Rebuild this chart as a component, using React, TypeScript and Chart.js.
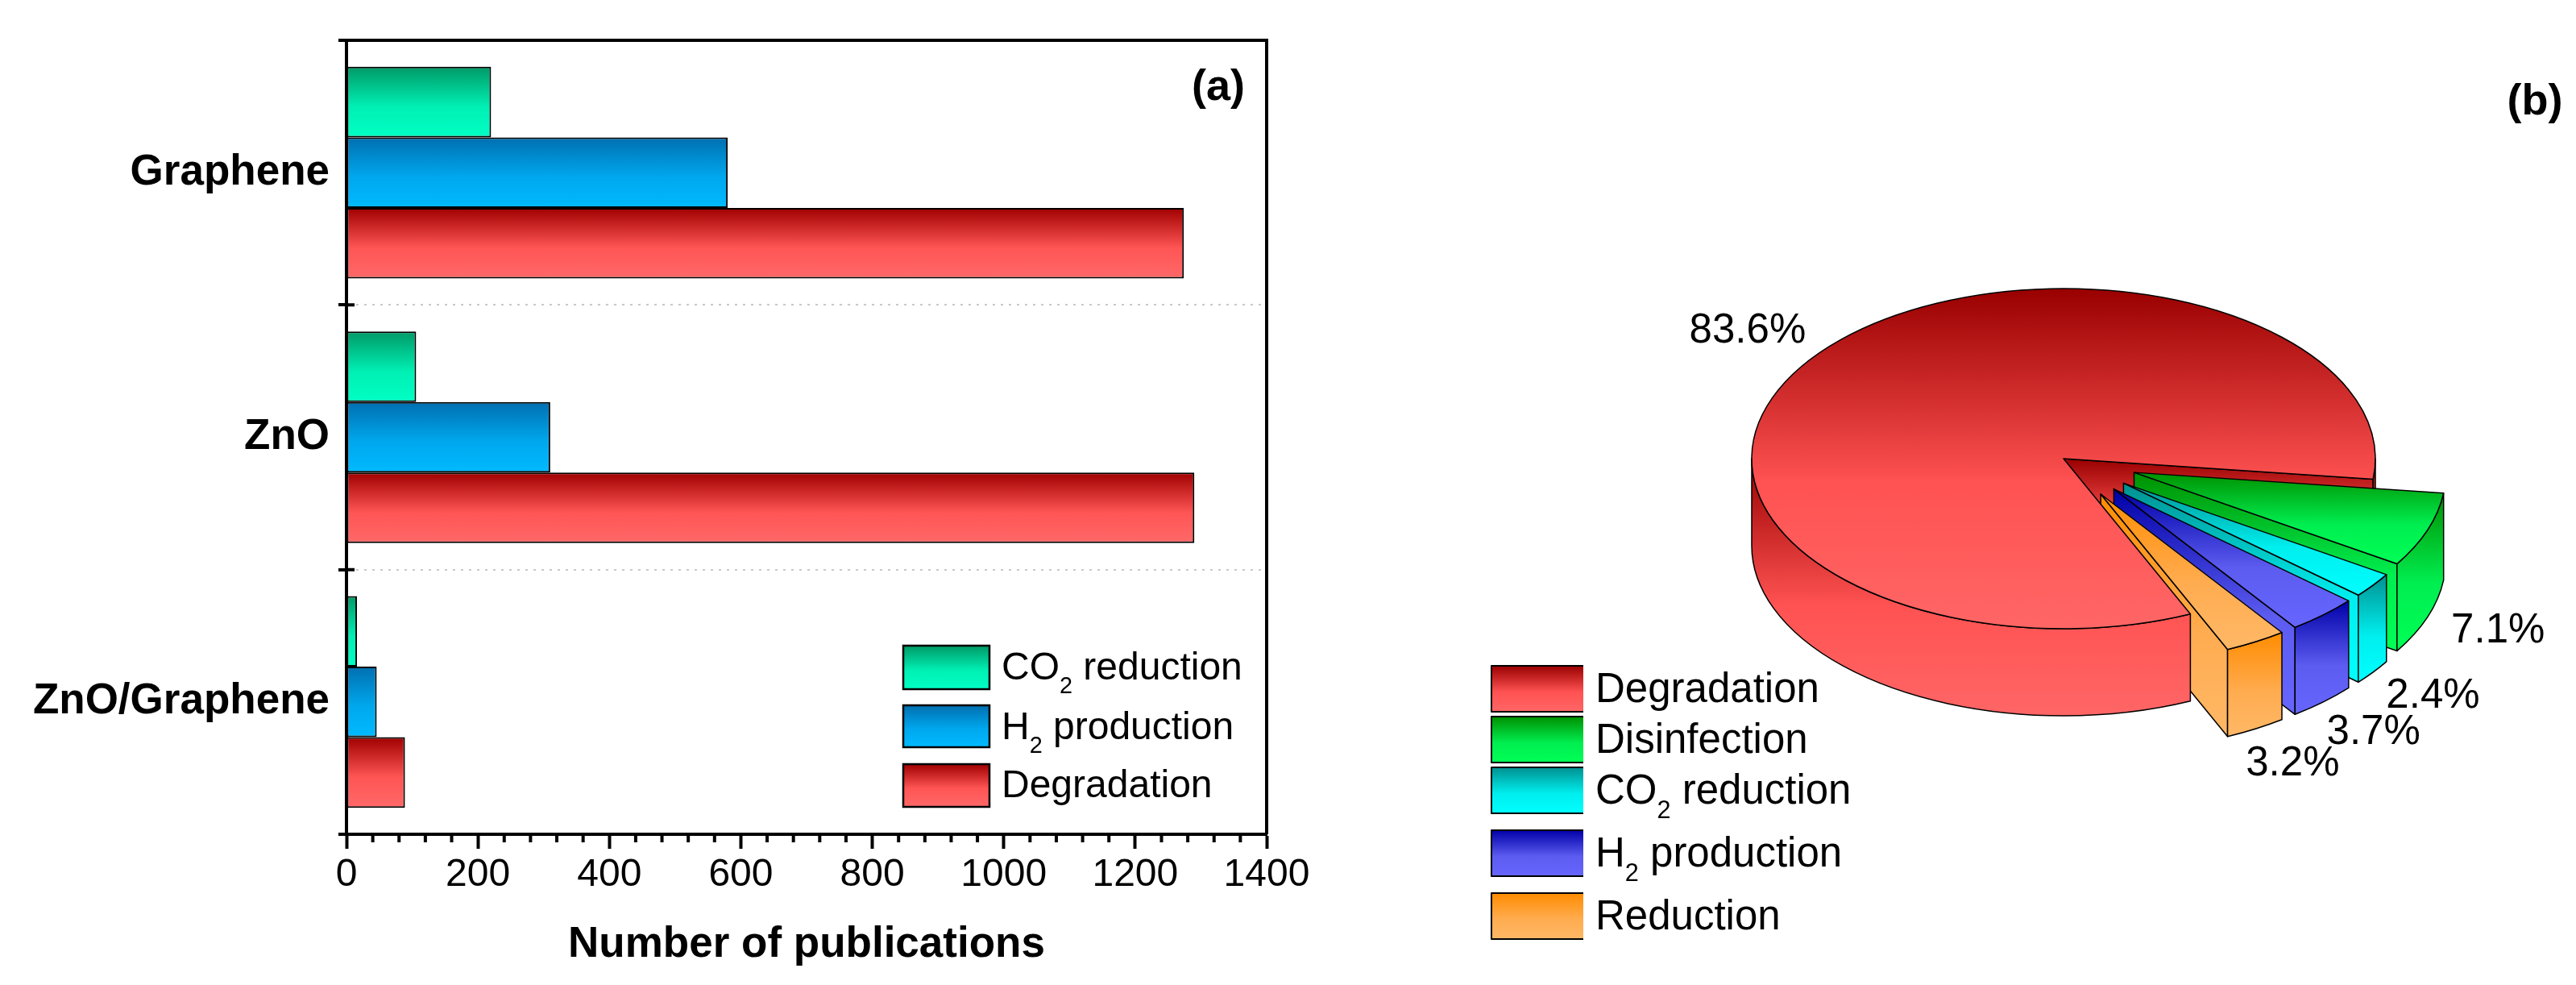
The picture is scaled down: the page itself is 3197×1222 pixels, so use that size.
import React, { useEffect, useRef } from "react";
import { Chart, registerables } from "chart.js";

Chart.register(...registerables);

// ---------- data ----------
const materials = ["Graphene", "ZnO", "ZnO/Graphene"];
const co2Reduction = [220, 106, 16];
const h2Production = [580, 310, 46];
const degradation = [1274, 1290, 89];
const barLabels = ["CO₂ reduction", "H₂ production", "Degradation"];
const xAxisTitle = "Number of publications";

const pieLabels = ["Degradation", "Disinfection", "CO₂ reduction", "H₂ production", "Reduction"];
const pieShares = [83.6, 7.1, 2.4, 3.7, 3.2];

// ---------- styles ----------
const FONT = "'Liberation Sans', Arial, sans-serif";
type Ramp = [string, string, string];
const RED: Ramp = ["#990000", "#ff5252", "#ff6666"];
const barRamps: Ramp[] = [
  ["#009966", "#00f0b4", "#00ffc4"],
  ["#006fb0", "#00a8ee", "#00baff"],
  ["#a00000", "#ff5555", "#ff6868"],
];
const pieRamps: Ramp[] = [
  RED,
  ["#009000", "#00ee50", "#00ff55"],
  ["#009090", "#00eeee", "#00ffff"],
  ["#0000a8", "#5c5cf0", "#6666ff"],
  ["#ff8c00", "#ffac50", "#ffb866"],
];
const CATEGORY_PCT = 0.8;
const PANEL_B_LEFT = 1700;
const LEGEND_X = 1851 - PANEL_B_LEFT;

function ramp(ctx: CanvasRenderingContext2D, y0: number, y1: number, r: Ramp) {
  const g = ctx.createLinearGradient(0, y0, 0, y1);
  g.addColorStop(0, r[0]);
  g.addColorStop(0.57, r[1]);
  g.addColorStop(1, r[2]);
  return g;
}

// draws a label, setting a "₂" as a true small subscript
function richText(ctx: CanvasRenderingContext2D, text: string, x: number, y: number, size: number) {
  const parts = text.split("₂");
  ctx.textAlign = "left";
  ctx.textBaseline = "alphabetic";
  ctx.fillStyle = "#000";
  parts.forEach((p, i) => {
    ctx.font = `${size}px ${FONT}`;
    ctx.fillText(p, x, y);
    x += ctx.measureText(p).width;
    if (i < parts.length - 1) {
      ctx.font = `${size * 0.6}px ${FONT}`;
      ctx.fillText("2", x, y + size * 0.35);
      x += ctx.measureText("2").width;
    }
  });
}

// ---------- panel (a) decorations ----------
const barFrame = {
  id: "barFrame",
  afterDraw(chart: any) {
    const { ctx, chartArea: a, scales } = chart;
    ctx.save();
    ctx.strokeStyle = "#000";
    ctx.lineWidth = 4;
    ctx.beginPath();
    ctx.moveTo(a.left - 10, a.top);
    ctx.lineTo(a.right, a.top);
    ctx.lineTo(a.right, a.bottom);
    ctx.moveTo(a.left - 10, a.bottom);
    ctx.lineTo(a.left, a.bottom);
    // inner part of the category ticks
    for (let i = 1; i < materials.length; i++) {
      const y = (scales.y.getPixelForValue(i - 1) + scales.y.getPixelForValue(i)) / 2;
      ctx.moveTo(a.left, y);
      ctx.lineTo(a.left + 10, y);
    }
    // minor ticks
    for (let v = 40; v < 1400; v += 40) {
      if (v % 200 === 0) continue;
      const x = scales.x.getPixelForValue(v);
      ctx.moveTo(x, a.bottom);
      ctx.lineTo(x, a.bottom + 10);
    }
    ctx.stroke();

    // legend
    const boxTops = [801, 875, 948];
    const boxHeights = [54, 52, 53];
    const baselines = [843, 917, 989];
    [0, 1, 2].forEach((d, i) => {
      const top = boxTops[i];
      ctx.fillStyle = ramp(ctx, top, top + boxHeights[i], barRamps[d]);
      ctx.fillRect(1121, top, 107, boxHeights[i]);
      ctx.lineWidth = 2.5;
      ctx.strokeRect(1121, top, 107, boxHeights[i]);
      richText(ctx, barLabels[d], 1243, baselines[i], 48);
    });

    ctx.font = `bold 54px ${FONT}`;
    ctx.fillStyle = "#000";
    ctx.textAlign = "center";
    ctx.textBaseline = "middle";
    ctx.fillText("(a)", 1512, 109);
    ctx.restore();
  },
};

// ---------- panel (b): a 3-D view of the library's own arcs ----------
const TILT = 211 / 387;
const DEPTH = 108;
const FRONT_HALF = [0, Math.PI];
const WRAPPED_FRONT_HALF = [2 * Math.PI, 3 * Math.PI];

const pie3d = {
  id: "pie3d",
  beforeDatasetDraw(chart: any, args: any) {
    const { ctx } = chart;
    const arcs = args.meta.data;
    ctx.save();
    ctx.strokeStyle = "#000";
    ctx.lineWidth = 1.5;
    ctx.lineJoin = "round";

    const paint = (r: Ramp, y0: number, y1: number) => {
      ctx.fillStyle = ramp(ctx, y0, y1, r);
      ctx.fill();
      ctx.stroke();
    };

    const geometry = (i: number) => {
      const el = arcs[i];
      const a1 = el.startAngle;
      const a2 = el.endAngle;
      const mid = (a1 + a2) / 2;
      const off = el.options.offset || 0;
      const R = el.outerRadius;
      const rY = R * TILT;
      const cx = el.x + Math.cos(mid) * off;
      const cy = el.y + Math.sin(mid) * off * TILT;
      const r = pieRamps[i];
      const rimX = (a: number) => cx + R * Math.cos(a);
      const rimY = (a: number) => cy + rY * Math.sin(a);
      return { a1, a2, R, rY, cx, cy, r, rimX, rimY };
    };

    // cut face at the end angle
    const drawFace = (i: number) => {
      const { a2, cx, cy, r, rimX, rimY } = geometry(i);
      ctx.beginPath();
      ctx.moveTo(cx, cy);
      ctx.lineTo(rimX(a2), rimY(a2));
      ctx.lineTo(rimX(a2), rimY(a2) + DEPTH);
      ctx.lineTo(cx, cy + DEPTH);
      ctx.closePath();
      paint(r, cy, Math.max(cy, rimY(a2)) + DEPTH);
    };

    // outer wall, limited to one front-facing half turn
    const drawWall = (i: number, [lo, hi]: number[]) => {
      const { a1, a2, R, rY, cx, cy, r, rimY } = geometry(i);
      const s = Math.max(a1, lo);
      const e = Math.min(a2, hi);
      if (e <= s) return;
      let yMin = Infinity;
      let yMax = -Infinity;
      for (const a of [s, e, Math.PI / 2, (5 * Math.PI) / 2]) {
        if (a >= s && a <= e) {
          yMin = Math.min(yMin, rimY(a));
          yMax = Math.max(yMax, rimY(a));
        }
      }
      ctx.beginPath();
      ctx.ellipse(cx, cy, R, rY, 0, s, e);
      ctx.ellipse(cx, cy + DEPTH, R, rY, 0, e, s, true);
      ctx.closePath();
      paint(r, i === 0 ? cy : yMin, yMax + DEPTH);
    };

    const drawTop = (i: number) => {
      const { a1, a2, R, rY, cx, cy, r, rimY } = geometry(i);
      let top = cy;
      let bottom = cy;
      for (let k = 0; k <= 60; k++) {
        const y = rimY(a1 + ((a2 - a1) * k) / 60);
        top = Math.min(top, y);
        bottom = Math.max(bottom, y);
      }
      ctx.beginPath();
      ctx.moveTo(cx, cy);
      ctx.ellipse(cx, cy, R, rY, 0, a1, a2);
      ctx.closePath();
      paint(r, top, bottom);
    };

    // painter's order: what lies behind the gap, the exploded slices, then the big slice's front
    drawFace(0);
    drawWall(0, WRAPPED_FRONT_HALF);
    for (let i = 1; i < arcs.length; i++) {
      drawFace(i);
      drawWall(i, WRAPPED_FRONT_HALF);
      drawTop(i);
    }
    drawWall(0, FRONT_HALF);
    drawTop(0);

    // percentage labels
    ctx.fillStyle = "#000";
    ctx.font = `51px ${FONT}`;
    ctx.textAlign = "center";
    ctx.textBaseline = "middle";
    arcs.forEach((el: any, i: number) => {
      const mid = (el.startAngle + el.endAngle) / 2;
      const off = el.options.offset || 0;
      const f = el.outerRadius + off + el.outerRadius * (off ? 0.24 : 0.26);
      const below = off > 0 ? DEPTH : 0;
      const x = el.x + Math.cos(mid) * f;
      const y = el.y + Math.sin(mid) * f * TILT + below;
      ctx.fillText(`${pieShares[i].toFixed(1)}%`, x, y);
    });

    // legend: left, top and bottom rules only
    const tops = [826, 889, 952, 1030, 1108];
    pieLabels.forEach((label, i) => {
      const t = tops[i];
      const h = 57;
      ctx.fillStyle = ramp(ctx, t, t + h, pieRamps[i]);
      ctx.fillRect(LEGEND_X, t, 114, h);
      ctx.lineWidth = 2;
      ctx.beginPath();
      ctx.moveTo(LEGEND_X + 114, t);
      ctx.lineTo(LEGEND_X, t);
      ctx.lineTo(LEGEND_X, t + h);
      ctx.lineTo(LEGEND_X + 114, t + h);
      ctx.stroke();
      richText(ctx, label, LEGEND_X + 129, t + 45, 51);
    });

    ctx.font = `bold 54px ${FONT}`;
    ctx.fillStyle = "#000";
    ctx.textAlign = "center";
    ctx.textBaseline = "middle";
    ctx.fillText("(b)", 3146 - PANEL_B_LEFT, 127);
    ctx.restore();
    return false;
  },
};

export default function App() {
  const barRef = useRef<HTMLCanvasElement>(null);
  const pieRef = useRef<HTMLCanvasElement>(null);

  useEffect(() => {
    const series = [co2Reduction, h2Production, degradation];
    const barChart = new Chart(barRef.current!, {
      type: "bar",
      data: {
        labels: materials,
        datasets: series.map((data, d) => ({
          label: barLabels[d],
          data,
          categoryPercentage: CATEGORY_PCT,
          barPercentage: 1,
          borderColor: "#000",
          borderWidth: 2,
          borderSkipped: false,
          backgroundColor: (c: any) => {
            const y = c.chart.scales?.y;
            if (!y || c.dataIndex === undefined) return barRamps[d][0];
            const band = y.height / materials.length;
            const h = (band * CATEGORY_PCT) / series.length;
            const top = y.getPixelForValue(c.dataIndex) - (band * CATEGORY_PCT) / 2 + d * h;
            if (!Number.isFinite(top) || !Number.isFinite(h)) return barRamps[d][0];
            return ramp(c.chart.ctx, top, top + h, barRamps[d]);
          },
        })),
      },
      options: {
        indexAxis: "y",
        animation: false,
        responsive: false,
        devicePixelRatio: 1,
        layout: { padding: { top: 50, right: 128, left: 0, bottom: 0 } },
        plugins: { legend: { display: false }, tooltip: { enabled: false } },
        scales: {
          x: {
            min: 0,
            max: 1400,
            ticks: {
              stepSize: 200,
              color: "#000",
              padding: 4,
              maxRotation: 0,
              font: { size: 48, family: FONT },
              callback: (v: any) => String(v),
            },
            grid: { drawOnChartArea: false, color: "#000", tickColor: "#000", tickWidth: 4, tickLength: 18 },
            border: { color: "#000", width: 4 },
            title: {
              display: true,
              text: xAxisTitle,
              color: "#000",
              font: { size: 53, weight: "bold", family: FONT },
              padding: { top: 0, bottom: 18 },
            },
            afterFit: (s: any) => {
              s.height = 187;
            },
          },
          y: {
            ticks: {
              color: "#000",
              padding: 11,
              font: { size: 53, weight: "bold", family: FONT },
            },
            grid: { color: "#c8c8c8", lineWidth: 2, tickColor: "#000", tickWidth: 4, tickLength: 10 },
            border: { color: "#000", width: 4, dash: [3, 7] },
            afterFit: (s: any) => {
              s.width = 430;
            },
          },
        },
      },
      plugins: [barFrame],
    } as any);

    const pieChart = new Chart(pieRef.current!, {
      type: "pie",
      data: {
        labels: pieLabels,
        datasets: [
          {
            data: pieShares,
            offset: [0, 93, 93, 93, 93],
            backgroundColor: pieRamps.map((r) => r[1]),
            borderColor: "#000",
            borderWidth: 1,
          },
        ],
      },
      options: {
        animation: false,
        responsive: false,
        devicePixelRatio: 1,
        rotation: 156,
        radius: 387,
        layout: { padding: { left: 2 * (2561 - PANEL_B_LEFT) - (3197 - PANEL_B_LEFT), bottom: 1222 - 2 * 569 } },
        plugins: { legend: { display: false }, tooltip: { enabled: false } },
      },
      plugins: [pie3d],
    } as any);

    return () => {
      barChart.destroy();
      pieChart.destroy();
    };
  }, []);

  return (
    <div style={{ position: "absolute", left: 0, top: 0, width: 3197, height: 1222, background: "#fff" }}>
      <canvas ref={barRef} width={PANEL_B_LEFT} height={1222} style={{ position: "absolute", left: 0, top: 0 }} />
      <canvas
        ref={pieRef}
        width={3197 - PANEL_B_LEFT}
        height={1222}
        style={{ position: "absolute", left: PANEL_B_LEFT, top: 0 }}
      />
    </div>
  );
}
